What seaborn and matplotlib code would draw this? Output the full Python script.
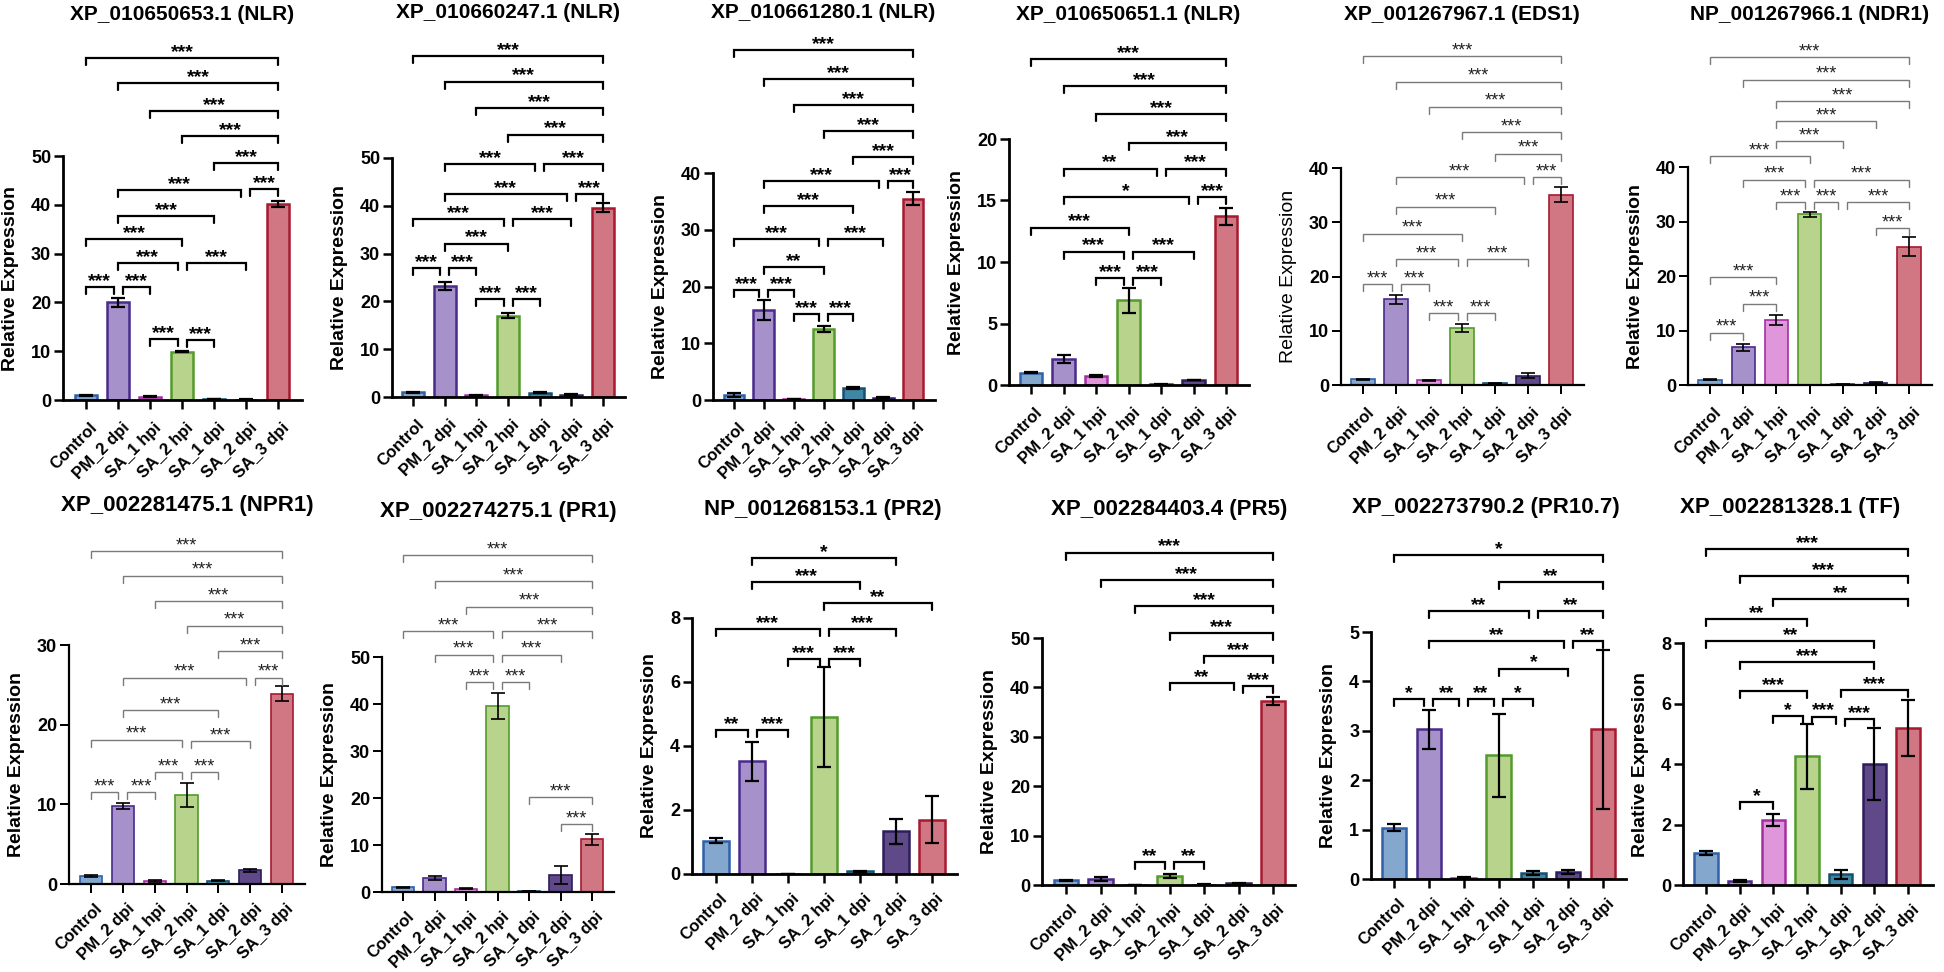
import numpy as np
import pandas as pd
import seaborn as sns
import matplotlib.pyplot as plt
from matplotlib.transforms import ScaledTranslation

sns.set_theme(style='ticks')
plt.rcParams['font.family'] = ['Liberation Sans', 'DejaVu Sans']

CATEGORIES = ['Control', 'PM_2 dpi', 'SA_1 hpi', 'SA_2 hpi', 'SA_1 dpi', 'SA_2 dpi', 'SA_3 dpi']
FACE = ['#78a6d9', '#a387d5', '#ec8ae6', '#badf80', '#2f8db6', '#5c3e93', '#e0687a']
EDGE = ['#2f60a8', '#4a2a8c', '#a52ea3', '#539b2b', '#17506e', '#2d1d5c', '#a8192f']

TITLES = ['XP_010650653.1 (NLR)', 'XP_010660247.1 (NLR)', 'XP_010661280.1 (NLR)',
          'XP_010650651.1 (NLR)', 'XP_001267967.1 (EDS1)', 'NP_001267966.1 (NDR1)',
          'XP_002281475.1 (NPR1)', 'XP_002274275.1 (PR1)', 'NP_001268153.1 (PR2)',
          'XP_002284403.4 (PR5)', 'XP_002273790.2 (PR10.7)', 'XP_002281328.1 (TF)']

# mean relative expression, SD, and significance brackets (i, j, height, label)
nlr653_mean = [1.0, 20.0, 0.7, 9.9, 0.2, 0.1, 40.1]
nlr653_sd = [0.1, 1.0, 0.1, 0.1, 0.05, 0.05, 0.65]
nlr653_sig = [(0, 6, 70.0, '***'), (1, 6, 64.9, '***'), (2, 6, 59.3, '***'), (3, 6, 54.0, '***'),
              (4, 6, 48.6, '***'), (5, 6, 43.2, '***'), (1, 5, 43.0, '***'), (1, 4, 37.7, '***'),
              (0, 3, 33.0, '***'), (1, 3, 28.0, '***'), (3, 5, 28.0, '***'), (0, 1, 23.2, '***'),
              (1, 2, 23.2, '***'), (2, 3, 12.5, '***'), (3, 4, 12.3, '***')]

nlr247_mean = [1.0, 23.3, 0.4, 17.0, 0.9, 0.5, 39.6]
nlr247_sd = [0.1, 0.85, 0.1, 0.5, 0.15, 0.1, 1.0]
nlr247_sig = [(0, 6, 71.4, '***'), (1, 6, 66.0, '***'), (2, 6, 60.4, '***'), (3, 6, 54.9, '***'),
              (1, 4, 48.7, '***'), (4, 6, 48.7, '***'), (1, 5, 42.5, '***'), (5, 6, 42.5, '***'),
              (0, 3, 37.3, '***'), (3, 5, 37.3, '***'), (1, 3, 32.1, '***'), (0, 1, 26.9, '***'),
              (1, 2, 26.9, '***'), (2, 3, 20.4, '***'), (3, 4, 20.4, '***')]

nlr280_mean = [0.9, 15.8, 0.2, 12.5, 2.1, 0.4, 35.5]
nlr280_sd = [0.3, 1.75, 0.05, 0.6, 0.15, 0.05, 1.2]
nlr280_sig = [(0, 6, 61.6, '***'), (1, 6, 56.6, '***'), (2, 6, 51.9, '***'), (3, 6, 47.4, '***'),
              (4, 6, 42.8, '***'), (1, 5, 38.6, '***'), (5, 6, 38.6, '***'), (1, 4, 34.1, '***'),
              (0, 3, 28.4, '***'), (3, 5, 28.4, '***'), (1, 3, 23.5, '**'), (0, 1, 19.3, '***'),
              (1, 2, 19.3, '***'), (2, 3, 15.1, '***'), (3, 4, 15.1, '***')]

nlr651_mean = [1.0, 2.1, 0.73, 6.87, 0.05, 0.4, 13.7]
nlr651_sd = [0.05, 0.3, 0.05, 1.0, 0.02, 0.03, 0.7]
nlr651_sig = [(0, 6, 26.5, '***'), (1, 6, 24.3, '***'), (2, 6, 22.0, '***'), (3, 6, 19.7, '***'),
              (1, 4, 17.6, '**'), (4, 6, 17.6, '***'), (1, 5, 15.3, '*'), (5, 6, 15.3, '***'),
              (0, 3, 12.8, '***'), (1, 3, 10.85, '***'), (3, 5, 10.85, '***'),
              (2, 3, 8.66, '***'), (3, 4, 8.66, '***')]

eds1_mean = [1.05, 15.8, 0.9, 10.5, 0.3, 1.7, 35.1]
eds1_sd = [0.08, 0.85, 0.1, 0.7, 0.05, 0.5, 1.35]
eds1_sig = [(0, 6, 60.6, '***'), (1, 6, 55.9, '***'), (2, 6, 51.3, '***'), (3, 6, 46.6, '***'),
            (4, 6, 42.6, '***'), (1, 5, 38.3, '***'), (5, 6, 38.3, '***'), (1, 4, 32.9, '***'),
            (0, 3, 27.9, '***'), (1, 3, 23.2, '***'), (3, 5, 23.2, '***'), (0, 1, 18.6, '***'),
            (1, 2, 18.6, '***'), (2, 3, 13.2, '***'), (3, 4, 13.2, '***')]

ndr1_mean = [1.0, 6.9, 12.0, 31.3, 0.1, 0.4, 25.4]
ndr1_sd = [0.05, 0.65, 0.9, 0.45, 0.02, 0.2, 1.8]
ndr1_sig = [(0, 6, 60.1, '***'), (1, 6, 56.0, '***'), (2, 6, 52.1, '***'), (2, 5, 48.4, '***'),
            (2, 4, 44.7, '***'), (0, 3, 42.0, '***'), (1, 3, 37.7, '***'), (3, 6, 37.7, '***'),
            (2, 3, 33.5, '***'), (3, 4, 33.5, '***'), (4, 6, 33.5, '***'), (5, 6, 28.8, '***'),
            (0, 2, 19.8, '***'), (1, 2, 14.9, '***'), (0, 1, 9.6, '***')]

npr1_mean = [1.0, 9.8, 0.4, 11.2, 0.4, 1.7, 23.9]
npr1_sd = [0.08, 0.4, 0.1, 1.5, 0.05, 0.15, 0.9]
npr1_sig = [(0, 6, 41.8, '***'), (1, 6, 38.7, '***'), (2, 6, 35.5, '***'), (3, 6, 32.4, '***'),
            (4, 6, 29.2, '***'), (1, 5, 25.9, '***'), (5, 6, 25.9, '***'), (1, 4, 21.8, '***'),
            (0, 3, 18.1, '***'), (3, 5, 17.9, '***'), (2, 3, 14.0, '***'), (3, 4, 14.0, '***'),
            (0, 1, 11.5, '***'), (1, 2, 11.5, '***')]

pr1_mean = [1.0, 2.9, 0.7, 39.6, 0.2, 3.6, 11.2]
pr1_sd = [0.1, 0.45, 0.1, 2.8, 0.05, 1.95, 1.1]
pr1_sig = [(0, 6, 71.7, '***'), (1, 6, 66.1, '***'), (2, 6, 60.7, '***'), (0, 3, 55.5, '***'),
           (3, 6, 55.5, '***'), (1, 3, 50.5, '***'), (3, 5, 50.5, '***'), (2, 3, 44.6, '***'),
           (3, 4, 44.6, '***'), (4, 6, 20.2, '***'), (5, 6, 14.4, '***')]

pr2_mean = [1.04, 3.53, 0.0, 4.9, 0.08, 1.33, 1.7]
pr2_sd = [0.07, 0.61, 0.0, 1.56, 0.01, 0.39, 0.73]
pr2_sig = [(1, 5, 9.87, '*'), (1, 4, 9.12, '***'), (3, 6, 8.48, '**'), (0, 3, 7.65, '***'),
           (3, 5, 7.65, '***'), (2, 3, 6.71, '***'), (3, 4, 6.71, '***'), (0, 1, 4.5, '**'),
           (1, 2, 4.5, '***')]

pr5_mean = [1.0, 1.15, 0.0, 1.8, 0.1, 0.4, 37.3]
pr5_sd = [0.1, 0.4, 0.0, 0.4, 0.02, 0.1, 0.8]
pr5_sig = [(0, 6, 67.3, '***'), (1, 6, 61.8, '***'), (2, 6, 56.4, '***'), (3, 6, 51.0, '***'),
           (4, 6, 46.3, '***'), (3, 5, 40.8, '**'), (5, 6, 40.3, '***'), (2, 3, 4.7, '**'),
           (3, 4, 4.7, '**')]

pr10_mean = [1.04, 3.03, 0.03, 2.51, 0.13, 0.15, 3.03]
pr10_sd = [0.07, 0.4, 0.01, 0.84, 0.04, 0.04, 1.61]
pr10_sig = [(0, 6, 6.55, '*'), (3, 6, 6.01, '**'), (1, 4, 5.42, '**'), (4, 6, 5.42, '**'),
            (1, 5, 4.82, '**'), (5, 6, 4.82, '**'), (3, 5, 4.26, '*'), (0, 1, 3.64, '*'),
            (1, 2, 3.64, '**'), (2, 3, 3.64, '**'), (3, 4, 3.64, '*')]

tf_mean = [1.05, 0.12, 2.15, 4.25, 0.36, 4.0, 5.2]
tf_sd = [0.07, 0.03, 0.2, 1.07, 0.15, 1.2, 0.92]
tf_sig = [(0, 6, 11.1, '***'), (1, 6, 10.2, '***'), (2, 6, 9.44, '**'), (0, 3, 8.8, '**'),
          (0, 5, 8.08, '**'), (1, 5, 7.36, '***'), (1, 3, 6.4, '***'), (4, 6, 6.46, '***'),
          (2, 3, 5.6, '*'), (3, 4, 5.57, '***'), (4, 5, 5.5, '***'), (1, 2, 2.74, '*')]

MEANS = [nlr653_mean, nlr247_mean, nlr280_mean, nlr651_mean, eds1_mean, ndr1_mean,
         npr1_mean, pr1_mean, pr2_mean, pr5_mean, pr10_mean, tf_mean]
SDS = [nlr653_sd, nlr247_sd, nlr280_sd, nlr651_sd, eds1_sd, ndr1_sd,
       npr1_sd, pr1_sd, pr2_sd, pr5_sd, pr10_sd, tf_sd]
SIGS = [nlr653_sig, nlr247_sig, nlr280_sig, nlr651_sig, eds1_sig, ndr1_sig,
        npr1_sig, pr1_sig, pr2_sig, pr5_sig, pr10_sig, tf_sig]
Y_MAX = [50, 50, 40, 20, 40, 40, 30, 50, 8, 50, 5, 8]
Y_STEP = [10, 10, 10, 5, 10, 10, 10, 10, 2, 10, 1, 2]

# layout in pixels: spine x, first bar x, last bar x, axis end x, y of zero, y of top tick
LAYOUT = [(63, 86, 278, 302, 400, 156), (392, 413, 603, 625, 397, 158),
          (713, 734, 913, 935, 400, 173), (1009, 1031, 1226, 1249, 385, 139),
          (1341, 1363, 1561, 1584, 385, 168), (1688, 1710, 1909, 1932, 385, 167),
          (69, 91, 282, 305, 884, 645), (382, 403, 592, 614, 892, 657),
          (692, 716, 932, 957, 874, 618), (1042, 1066, 1273, 1295, 885, 638),
          (1371, 1394, 1603, 1626, 879, 632), (1683, 1706, 1908, 1933, 885, 643)]
TITLE_POS = [(182, 14), (508, 12), (823, 12), (1128, 14), (1462, 15), (1810, 15),
             (187, 505), (498, 511), (823, 510), (1169, 510), (1486, 508), (1790, 508)]
LIGHT = [False, False, False, False, True, True, True, True, False, False, False, False]

W, H = 1944, 972
fig = plt.figure(figsize=(W / 100, H / 100), dpi=100)
fig.patch.set_facecolor('white')

for k in range(12):
    spine, c0, c6, xend, y0, ytick = LAYOUT[k]
    light = LIGHT[k]
    top_px = 25 if k < 6 else 520
    step = (c6 - c0) / 6
    ppu = (y0 - ytick) / Y_MAX[k]
    ax = fig.add_axes([spine / W, 1 - y0 / H, (xend - spine) / W, (y0 - top_px) / H])
    ax.set_facecolor('none')

    df = pd.DataFrame({'group': CATEGORIES, 'value': MEANS[k]})
    sns.barplot(data=df, x='group', y='value', hue='group', order=CATEGORIES,
                hue_order=CATEGORIES, palette=FACE, legend=False, width=0.7,
                errorbar=None, linewidth=1.2 if light else 1.8, ax=ax)
    for patch, ec in zip(ax.patches, EDGE):
        patch.set_edgecolor(ec)
    ax.errorbar(np.arange(7), MEANS[k], yerr=SDS[k], fmt='none', ecolor='black',
                elinewidth=1.2 if light else 1.6, capsize=5, capthick=1.2 if light else 1.6,
                zorder=4)

    ax.set_xlim(-(c0 - spine) / step, 6 + (xend - c6) / step)
    ax.set_ylim(0, (y0 - top_px) / ppu)
    for s in ['top', 'right']:
        ax.spines[s].set_visible(False)
    lw_sp = 1.6 if light else 2.0
    ax.spines['left'].set_linewidth(lw_sp)
    ax.spines['bottom'].set_linewidth(lw_sp)
    ax.spines['left'].set_bounds(0, Y_MAX[k])
    ax.spines['left'].set_color('black')
    ax.spines['bottom'].set_color('black')

    ax.set_yticks(np.arange(0, Y_MAX[k] + Y_STEP[k] / 2, Y_STEP[k]))
    ax.set_xticks(range(7))
    ax.set_xticklabels(CATEGORIES, rotation=45, ha='right', va='top', rotation_mode='anchor')
    ax.tick_params(axis='both', direction='out', length=6.5, width=lw_sp * 0.9,
                   color='black', labelcolor='black')
    ax.tick_params(axis='y', labelsize=13, pad=2)
    ax.tick_params(axis='x', labelsize=12, pad=3)
    dy = -0.07 if k < 6 else -0.04
    for lab in ax.get_yticklabels():
        lab.set_fontweight('bold')
    for lab in ax.get_xticklabels():
        lab.set_fontweight('bold')
        lab.set_transform(lab.get_transform() + ScaledTranslation(0.04, dy, fig.dpi_scale_trans))
    ax.set_xlabel('')
    ax.set_ylabel('Relative Expression', fontsize=14,
                  fontweight='normal' if k == 4 else 'bold', labelpad=9, color='black')
    ax.yaxis.label.set_y(0.5 * Y_MAX[k] / ax.get_ylim()[1])
    ax.grid(False)

    # significance brackets
    sig = SIGS[k]
    tol = 0.04 * Y_MAX[k]
    drop = 7 / ppu
    shrink = 4.5 / step
    br_color = '#7a7a7a' if light else 'black'
    br_lw = 1.0 if light else 1.6
    for i, j, y, lab in sig:
        left, right = float(i), float(j)
        for a, b, yy, _ in sig:
            if (a, b) == (i, j) or abs(yy - y) > tol:
                continue
            if i in (a, b):
                left += shrink
            if j in (a, b):
                right -= shrink
        ax.plot([left, left, right, right], [y - drop, y, y, y - drop], color=br_color,
                lw=br_lw, clip_on=False, solid_joinstyle='miter', zorder=5)
        ax.text((left + right) / 2, y + 1 / ppu, lab, ha='center', va='baseline',
                fontsize=13 if light else 14, fontweight='normal' if light else 'bold',
                color='#222222' if light else 'black', clip_on=False)

    tx, ty = TITLE_POS[k]
    fig.text(tx / W, 1 - ty / H, TITLES[k], ha='center', va='center',
             fontsize=15 if k < 6 else 16, fontweight='bold', color='black')

fig.savefig('out.png', dpi=100, facecolor='white')
